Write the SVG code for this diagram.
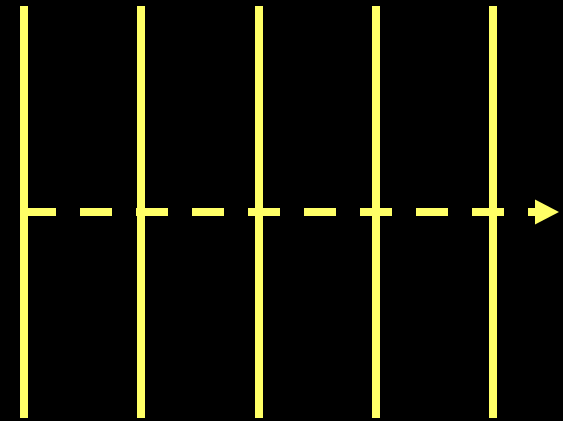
<svg xmlns="http://www.w3.org/2000/svg" width="563" height="421" viewBox="0 0 563 421">
<style>
.v{stroke:#ffff66;stroke-width:8;fill:none}
.d{stroke:#ffff66;stroke-width:8;stroke-dasharray:32 24;fill:none}
.a{fill:#ffff66}
</style>
<rect width="563" height="421" fill="#000"/>
<g id="line1"><line class="v" x1="24" y1="6" x2="24" y2="418"/></g>
<g id="line2"><line class="v" x1="141" y1="6" x2="141" y2="418"/></g>
<g id="line3"><line class="v" x1="259" y1="6" x2="259" y2="418"/></g>
<g id="line4"><line class="v" x1="376" y1="6" x2="376" y2="418"/></g>
<g id="line5"><line class="v" x1="493" y1="6" x2="493" y2="418"/></g>
<g id="connectors">
<line class="d" x1="24" y1="212" x2="536" y2="212"/>
<polygon class="a" points="535,199.5 559,212 535,224.5"/>
</g>
</svg>
